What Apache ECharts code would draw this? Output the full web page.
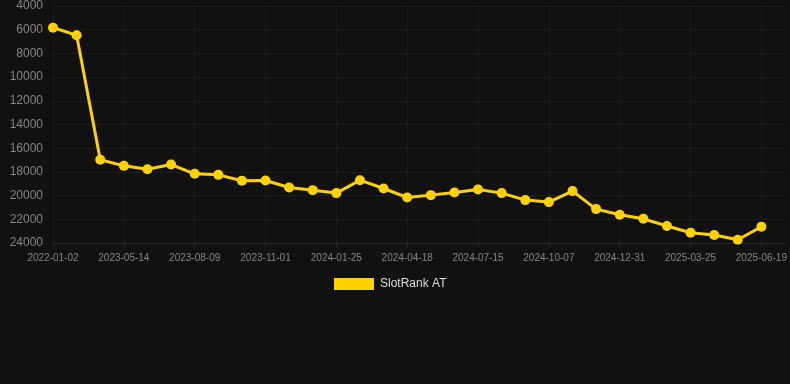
<!DOCTYPE html>
<html>
<head>
<meta charset="utf-8">
<script src="https://cdn.jsdelivr.net/npm/echarts@6/dist/echarts.min.js"></script>
<style>
html,body{margin:0;padding:0;background:#111111;}
#c{width:790px;height:384px;}
</style>
</head>
<body>
<div id="c"></div>
<script>
const categories = [
  '2022-01-02','2022-01-31','2023-04-15',
  '2023-05-14','2023-06-12','2023-07-11',
  '2023-08-09','2023-09-06','2023-10-04',
  '2023-11-01','2023-11-29','2023-12-28',
  '2024-01-25','2024-02-22','2024-03-21',
  '2024-04-18','2024-05-17','2024-06-15',
  '2024-07-15','2024-08-12','2024-09-09',
  '2024-10-07','2024-11-04','2024-12-03',
  '2024-12-31','2025-01-28','2025-02-25',
  '2025-03-25','2025-04-22','2025-05-21',
  '2025-06-19',''
];
const slotRankAT = [
  5830, 6470, 16980, 17490, 17770, 17380, 18160, 18250, 18750, 18730,
  19320, 19540, 19790, 18700, 19400, 20160, 19960, 19740, 19490, 19790,
  20380, 20550, 19620, 21140, 21620, 21960, 22570, 23140, 23330, 23730,
  22630
];
const seriesName = 'SlotRank AT';

const chart = echarts.init(document.getElementById('c'), null, {renderer:'canvas'});
chart.setOption({
  backgroundColor: '#111111',
  animation: false,
  grid: {left: 53, right: 5, top: 6, bottom: 141, containLabel: false},
  legend: {
    top: 273,
    left: 329,
    itemWidth: 40,
    itemHeight: 12,
    itemGap: 10,
    icon: 'rect',
    textStyle: {color: '#dddddd', fontSize: 12, padding: [0,0,0,1], fontFamily: 'Liberation Sans, Arial, sans-serif'},
    data: [seriesName]
  },
  xAxis: {
    type: 'category',
    data: categories,
    boundaryGap: false,
    axisLine: {show: true, lineStyle: {color: '#262626'}},
    axisTick: {show: true, interval: 2, length: 5, lineStyle: {color: '#262626'}},
    axisLabel: {interval: 2, color: '#858585', fontSize: 10, margin: 10, fontFamily: 'Liberation Sans, Arial, sans-serif'},
    splitLine: {show: true, interval: 2, lineStyle: {color: '#1b1b1b'}}
  },
  yAxis: {
    type: 'value',
    inverse: true,
    min: 4000,
    max: 24000,
    interval: 2000,
    axisLine: {show: false},
    axisTick: {show: false},
    axisLabel: {color: '#858585', fontSize: 12, margin: 10, formatter: function(v){return String(v);}, fontFamily: 'Liberation Sans, Arial, sans-serif'},
    splitLine: {show: true, lineStyle: {color: '#1e1e1e'}}
  },
  series: [{
    name: seriesName,
    type: 'line',
    data: slotRankAT,
    color: '#FFD200',
    lineStyle: {width: 3, color: '#FFD200'},
    symbol: 'circle',
    symbolSize: 10,
    itemStyle: {color: '#FFD200'}
  }]
});
</script>
</body>
</html>
